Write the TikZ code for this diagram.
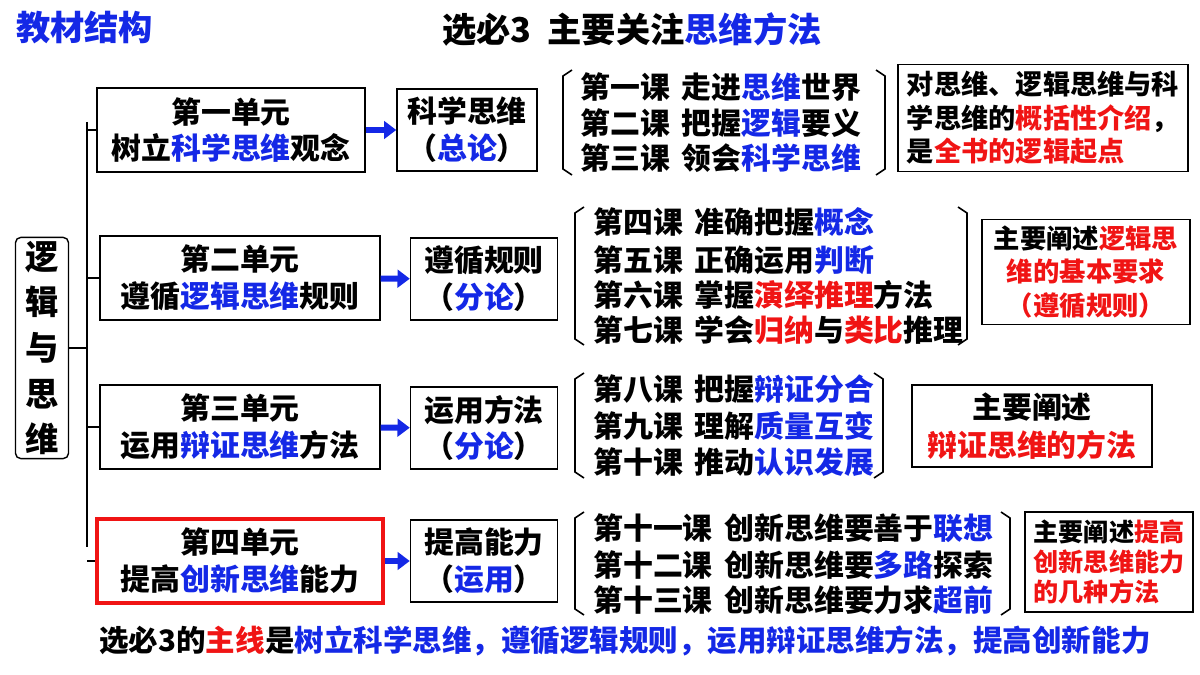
\documentclass[tikz,border=0pt]{standalone}
\usepackage{fontspec}
\setmainfont{Noto Sans CJK SC}
\usetikzlibrary{arrows.meta,positioning}
\definecolor{myblue}{RGB}{20,40,230}
\definecolor{myred}{RGB}{240,20,20}
\newcommand{\B}[1]{\textcolor{myblue}{#1}}
\newcommand{\R}[1]{\textcolor{myred}{#1}}
\newcommand{\brk}[4]{% x left, x right, top, bottom
  \draw[brkline] (#1+9,#3) -- (#1,#3+6) -- (#1,#4-6) -- (#1+9,#4);
  \draw[brkline] (#2-9,#3) -- (#2,#3+6) -- (#2,#4-6) -- (#2-9,#4);}
\begin{document}
\begin{tikzpicture}[x=0.02cm,y=-0.02cm,font=\bfseries,
  unitbox/.style={draw,thick,minimum width=#1*0.02cm,minimum height=84*0.02cm,align=center,font=\fontsize{17}{21}\selectfont\bfseries},
  methbox/.style={draw,thick,minimum width=#1*0.02cm,minimum height=82*0.02cm,align=center,font=\fontsize{17}{21}\selectfont\bfseries},
  notebox/.style={draw,thick,align=center,inner sep=3pt},
  lesson/.style={anchor=west,font=\fontsize{17}{19}\selectfont\bfseries,inner sep=0pt},
  brkline/.style={line width=0.9pt},
  goarrow/.style={-{Triangle[length=7pt,width=10pt]},line width=3.5pt,myblue}]
\useasboundingbox (0,0) rectangle (1200,675);
% titles
\node[font=\fontsize{19.5}{22}\selectfont\bfseries,myblue,anchor=west] (head) at (10,27) {教材结构};
\node[font=\fontsize{19.5}{22}\selectfont\bfseries] (title) at (632,29) {选必3\ \ 主要关注\B{思维方法}};
% left box
\node[draw,thick,rounded corners=3pt,minimum width=53*0.02cm,minimum height=220*0.02cm,align=center,inner sep=2pt,
  font=\fontsize{19}{26}\selectfont\bfseries] (main) at (42,348) {逻\\辑\\与\\思\\维};
% brace
\coordinate (bt) at (87,122);
\coordinate (bb) at (87,547);
\draw[thick] (bt) -- (bb);
\draw[thick] (main.east) -- (87,348);
% units
\node[unitbox=268] (u1) at (231,130) {第一单元\\树立\B{科学思维}观念};
\node[unitbox=280] (u2) at (240,278) {第二单元\\遵循\B{逻辑思维}规则};
\node[unitbox=280] (u3) at (240,427) {第三单元\\运用\B{辩证思维}方法};
\node[unitbox=286,draw=myred,line width=2pt] (u4) at (240,561) {第四单元\\提高\B{创新思维}能力};
\foreach \u/\y in {u1/130,u2/278,u3/427,u4/561}
  \draw[thick] (87,\y) -- (\u.west);
% methods
\node[methbox=140] (m1) at (467,130) {科学思维\\（\B{总论}）};
\node[methbox=147] (m2) at (484,279) {遵循规则\\（\B{分论}）};
\node[methbox=147] (m3) at (484,428) {运用方法\\（\B{分论}）};
\node[methbox=147] (m4) at (484,561) {提高能力\\（\B{运用}）};
\foreach \i in {1,...,4}
  \draw[goarrow] (u\i) -- (m\i);
% lessons
\node[lesson] (l1) at (580,87) {第一课\ \,走进\B{思维}世界};
\node[lesson] (l2) at (580,123) {第二课\ \,把握\B{逻辑}要义};
\node[lesson] (l3) at (580,158) {第三课\ \,领会\B{科学思维}};
\brk{563}{885}{70}{175}
\node[lesson] (l4) at (593,222) {第四课\ \,准确把握\B{概念}};
\node[lesson] (l5) at (593,260) {第五课\ \,正确运用\B{判断}};
\node[lesson] (l6) at (593,295) {第六课\ \,掌握\R{演绎推理}方法};
\node[lesson] (l7) at (593,330) {第七课\ \,学会\R{归纳}与\R{类比}推理};
\brk{575}{967}{207}{345}
\node[lesson] (l8) at (593,389) {第八课\ \,把握\B{辩证分合}};
\node[lesson] (l9) at (593,426) {第九课\ \,理解\B{质量互变}};
\node[lesson] (l10) at (593,462) {第十课\ \,推动\B{认识发展}};
\brk{575}{883}{373}{478}
\node[lesson] (l11) at (593,528) {第十一课\ \,创新思维要善于\B{联想}};
\node[lesson] (l12) at (593,565) {第十二课\ \,创新思维要\B{多路}探索};
\node[lesson] (l13) at (593,600) {第十三课\ \,创新思维要力求\B{超前}};
\brk{575}{1010}{512}{615}
% notes
\node[notebox,minimum width=290*0.02cm,minimum height=107*0.02cm,font=\fontsize{15.5}{19}\selectfont\bfseries,align=left] (n1) at (1043,118)
  {对思维、逻辑思维与科\\学思维的\R{概括性介绍}，\\是\R{全书的逻辑起点}};
\node[notebox,minimum width=208*0.02cm,minimum height=105*0.02cm,font=\fontsize{15}{19}\selectfont\bfseries] (n2) at (1086,272)
  {主要阐述\R{逻辑思}\\\R{维的基本要求}\\\R{（遵循规则）}};
\node[notebox,minimum width=240*0.02cm,minimum height=82*0.02cm,font=\fontsize{17}{22}\selectfont\bfseries] (n3) at (1032,426)
  {主要阐述\\\R{辩证思维的方法}};
\node[notebox,minimum width=168*0.02cm,minimum height=100*0.02cm,font=\fontsize{14.3}{17}\selectfont\bfseries,align=left,inner sep=1pt] (n4) at (1109,562)
  {主要阐述\R{提高}\\\R{创新思维能力}\\\R{的几种方法}};
% bottom line
\node[font=\fontsize{16.8}{19}\selectfont\bfseries] (foot) at (625,641)
  {选必3的\R{主线}是\B{树立科学思维，遵循逻辑规则，运用辩证思维方法，提高创新能力}};
\end{tikzpicture}
\end{document}
